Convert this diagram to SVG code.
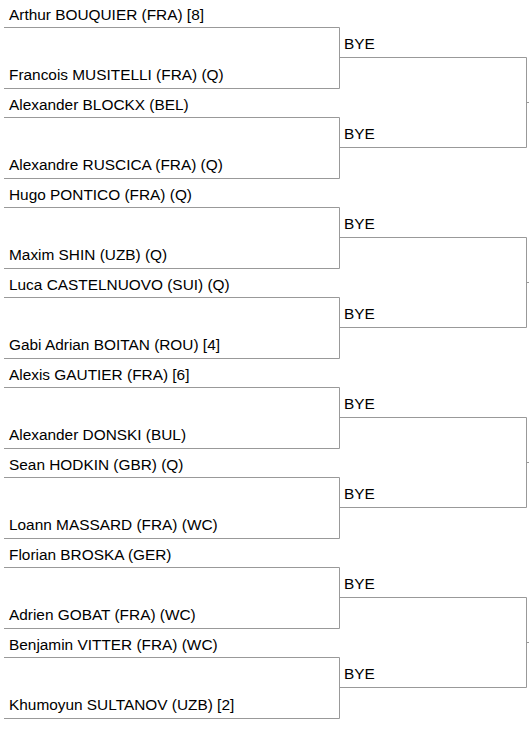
<svg xmlns="http://www.w3.org/2000/svg" width="529" height="729" viewBox="0 0 529 729">
<style>
text{font-family:"Liberation Sans",Arial,sans-serif;font-size:15.4px;fill:#000}
.l{fill:none;stroke:#999;stroke-width:1}
</style>
<rect width="529" height="729" fill="#fff"/>
<g id="connectors">
<path class="l" d="M4 27.5H339.5V88.5H4M4 117.5H339.5V178.5H4M4 207.5H339.5V268.5H4M4 297.5H339.5V358.5H4M4 387.5H339.5V448.5H4M4 477.5H339.5V538.5H4M4 567.5H339.5V628.5H4M4 657.5H339.5V718.5H4"/>
<path class="l" d="M339.5 57.5H526.5V147.5H339.5M526.5 102.5H529M339.5 237.5H526.5V327.5H339.5M526.5 282.5H529M339.5 417.5H526.5V507.5H339.5M526.5 462.5H529M339.5 597.5H526.5V687.5H339.5M526.5 642.5H529"/>
</g>
<g id="p1"><text x="9" y="20">Arthur BOUQUIER (FRA) [8]</text></g>
<g id="p2"><text x="9" y="80">Francois MUSITELLI (FRA) (Q)</text></g>
<g id="p3"><text x="9" y="110">Alexander BLOCKX (BEL)</text></g>
<g id="p4"><text x="9" y="170">Alexandre RUSCICA (FRA) (Q)</text></g>
<g id="p5"><text x="9" y="200">Hugo PONTICO (FRA) (Q)</text></g>
<g id="p6"><text x="9" y="260">Maxim SHIN (UZB) (Q)</text></g>
<g id="p7"><text x="9" y="290">Luca CASTELNUOVO (SUI) (Q)</text></g>
<g id="p8"><text x="9" y="350">Gabi Adrian BOITAN (ROU) [4]</text></g>
<g id="p9"><text x="9" y="380">Alexis GAUTIER (FRA) [6]</text></g>
<g id="p10"><text x="9" y="440">Alexander DONSKI (BUL)</text></g>
<g id="p11"><text x="9" y="470">Sean HODKIN (GBR) (Q)</text></g>
<g id="p12"><text x="9" y="530">Loann MASSARD (FRA) (WC)</text></g>
<g id="p13"><text x="9" y="560">Florian BROSKA (GER)</text></g>
<g id="p14"><text x="9" y="620">Adrien GOBAT (FRA) (WC)</text></g>
<g id="p15"><text x="9" y="650">Benjamin VITTER (FRA) (WC)</text></g>
<g id="p16"><text x="9" y="710">Khumoyun SULTANOV (UZB) [2]</text></g>
<g id="r2-1"><text x="344" y="49">BYE</text></g>
<g id="r2-2"><text x="344" y="139">BYE</text></g>
<g id="r2-3"><text x="344" y="229">BYE</text></g>
<g id="r2-4"><text x="344" y="319">BYE</text></g>
<g id="r2-5"><text x="344" y="409">BYE</text></g>
<g id="r2-6"><text x="344" y="499">BYE</text></g>
<g id="r2-7"><text x="344" y="589">BYE</text></g>
<g id="r2-8"><text x="344" y="679">BYE</text></g>
</svg>
